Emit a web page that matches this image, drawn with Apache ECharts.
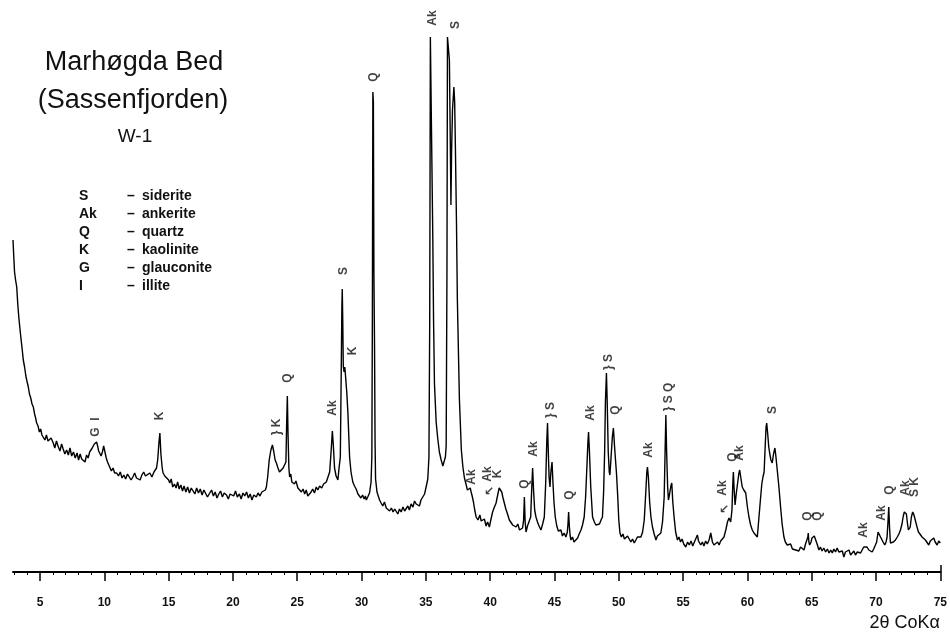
<!DOCTYPE html>
<html>
<head>
<meta charset="utf-8">
<script src="https://cdn.jsdelivr.net/npm/echarts@6/dist/echarts.min.js"></script>
<style>
html,body{margin:0;padding:0;background:#fff;}
#chart{width:950px;height:635px;}
</style>
</head>
<body>
<div id="chart"></div>
<script>
// ---- data: [2θ (deg), intensity (arbitrary units)] ----
const scanA = [[2.90,332],[2.95,318],[3.02,300],[3.10,292],[3.19,285],[3.27,268],[3.35,255],[3.45,242],[3.55,230],[3.62,222],[3.70,212],[3.80,205],[3.90,196],[4.00,190],[4.09,185],[4.18,178],[4.28,174],[4.38,168],[4.48,165],[4.58,158],[4.66,154],[4.74,149],[4.85,146],[4.95,140],[5.05,143],[5.15,137],[5.26,135],[5.38,132],[5.50,137],[5.62,131],[5.74,129],[5.86,134],[6.03,129],[6.15,124],[6.28,131],[6.40,126],[6.55,121],[6.68,128],[6.80,123],[6.93,118],[7.07,122],[7.20,117],[7.33,124],[7.46,116],[7.60,120],[7.74,114],[7.88,119],[8.00,112],[8.12,118],[8.24,113],[8.36,115],[8.50,110],[8.62,117],[8.74,114],[8.86,120],[8.98,118],[9.06,124],[9.14,125],[9.22,128],[9.30,127],[9.40,130],[9.48,126],[9.56,121],[9.66,122],[9.75,116],[9.85,120],[9.95,126],[10.05,124],[10.15,114],[10.25,110],[10.35,107],[10.43,105],[10.55,101],[10.68,104],[10.80,99],[10.96,99],[11.10,96],[11.24,100],[11.38,94],[11.52,97],[11.66,93],[11.80,98],[11.94,95],[12.08,92],[12.22,95],[12.36,99],[12.50,94],[12.64,96],[12.78,92],[12.92,97],[13.06,100],[13.20,96],[13.34,98],[13.54,99],[13.70,95],[13.86,100],[13.98,102],[14.06,104],[14.15,112],[14.25,130],[14.32,139],[14.40,118],[14.50,104],[14.57,99],[14.70,96],[14.84,95]];
const scanB = [[15.00,92],[15.09,89],[15.20,93],[15.32,85],[15.45,88],[15.58,84],[15.70,90],[15.82,83],[15.95,87],[16.08,81],[16.20,86],[16.34,80],[16.48,85],[16.62,79],[16.76,84],[16.90,82],[17.04,78],[17.18,84],[17.32,79],[17.46,83],[17.60,77],[17.74,82],[17.88,80],[18.02,75],[18.20,79],[18.34,82],[18.48,76],[18.62,80],[18.76,74],[18.90,78],[19.04,81],[19.18,75],[19.32,79],[19.50,77],[19.64,73],[19.78,78],[19.92,80],[20.06,76],[20.20,81],[20.34,75],[20.50,78],[20.64,73],[20.78,79],[20.92,76],[21.06,80],[21.20,74],[21.34,78],[21.48,72],[21.62,77],[21.82,75],[21.95,79],[22.10,76],[22.25,80],[22.40,78],[22.52,82],[22.60,85],[22.70,95],[22.82,112],[22.95,122],[23.07,127],[23.18,120],[23.28,112],[23.38,109],[23.50,104],[23.62,100],[23.77,99],[23.90,104],[24.02,102],[24.12,110],[24.18,150],[24.23,176],[24.28,140],[24.35,104],[24.41,95],[24.50,98],[24.58,90],[24.67,92],[24.78,88],[24.90,91],[25.05,84],[25.19,85],[25.32,80],[25.45,83],[25.58,78],[25.70,82],[25.82,76],[25.96,74],[26.08,80],[26.20,83],[26.34,79],[26.48,85],[26.60,82]];
const scanC = [[26.74,86],[26.90,84],[27.05,88],[27.15,86],[27.26,90],[27.40,92],[27.52,100],[27.62,118],[27.73,141],[27.80,128],[27.90,104],[28.02,96],[28.16,92],[28.26,105],[28.35,115],[28.42,200],[28.47,265],[28.50,283],[28.54,250],[28.58,206],[28.64,200],[28.70,205],[28.76,203],[28.85,180],[28.94,159],[29.07,115],[29.18,100],[29.32,90],[29.45,86],[29.58,83],[29.72,78],[29.84,79],[29.95,74],[30.08,77],[30.20,73],[30.30,76],[30.37,72],[30.48,75],[30.62,79],[30.74,90],[30.80,115],[30.84,250],[30.88,480],[30.92,470],[30.96,300],[31.01,225],[31.05,130],[31.09,93],[31.20,80],[31.30,76],[31.40,72],[31.52,69],[31.65,66],[31.78,70],[31.92,64],[32.05,66],[32.18,61],[32.32,64],[32.45,60],[32.58,63],[32.69,62],[32.82,58],[32.95,63],[33.08,60],[33.22,65],[33.35,61],[33.47,62],[33.60,66],[33.72,62],[33.85,68],[34.00,65],[34.12,71],[34.25,68],[34.38,70],[34.50,66],[34.62,72],[34.76,72],[34.90,78],[35.02,85],[35.15,93],[35.24,115],[35.30,250],[35.35,535],[35.48,535],[35.54,334],[35.60,250],[35.67,188],[35.80,150],[35.92,134],[36.05,120],[36.19,112],[36.32,106],[36.44,104],[36.52,115],[36.58,126],[36.64,300],[36.68,535],[36.78,535],[36.83,512],[36.90,430],[36.95,367],[37.00,420],[37.07,462],[37.18,485],[37.24,470],[37.30,422],[37.38,350],[37.45,272],[37.61,172],[37.76,122],[37.88,105],[38.00,94],[38.12,88],[38.23,82],[38.35,80],[38.45,84],[38.52,80],[38.60,76],[38.70,70],[38.80,62],[38.91,55]];
const scanD = [[39.05,52],[39.20,57],[39.30,51],[39.42,49],[39.55,53],[39.68,46],[39.80,50],[39.94,45],[40.05,52],[40.19,60],[40.30,64],[40.46,69],[40.60,78],[40.70,84],[40.79,86],[40.90,80],[41.00,74],[41.10,69],[41.22,63],[41.35,58],[41.49,52],[41.62,54],[41.75,47],[41.88,49],[42.01,45],[42.15,48],[42.28,42],[42.40,40],[42.52,44],[42.60,52],[42.66,75],[42.72,50],[42.79,40],[42.90,46],[43.04,45],[43.15,55],[43.22,80],[43.30,104],[43.38,80],[43.46,62],[43.56,55],[43.68,50],[43.80,46],[43.95,42],[44.08,48],[44.21,55],[44.32,90],[44.40,130],[44.46,149],[44.52,120],[44.58,95],[44.65,85],[44.72,100],[44.81,110],[44.88,90],[44.96,70],[45.06,55],[45.18,46],[45.30,41],[45.37,39],[45.50,42],[45.62,36],[45.75,39],[45.89,35],[46.00,40],[46.05,48],[46.10,60],[46.16,45],[46.22,36],[46.28,32],[46.40,35],[46.52,30],[46.67,29],[46.80,34],[46.92,38],[47.06,42],[47.18,47],[47.31,55],[47.42,75],[47.52,105],[47.60,130],[47.65,140],[47.72,120],[47.82,85],[47.96,55],[48.10,50],[48.22,47],[48.35,45],[48.50,48],[48.62,52],[48.73,55],[48.82,80],[48.90,120],[48.96,170],[49.04,199],[49.10,170],[49.18,120],[49.26,100],[49.31,97],[49.40,115],[49.50,135],[49.58,144],[49.62,144],[49.70,120],[49.82,99],[49.92,75],[50.00,52],[50.09,39],[50.20,35],[50.32,38],[50.44,33],[50.55,32],[50.68,36],[50.81,34],[50.94,30],[51.07,33],[51.20,29],[51.33,32]];
const scanE = [[51.45,35],[51.58,33],[51.72,35],[51.85,40],[51.98,52],[52.10,80],[52.18,100],[52.23,105],[52.30,95],[52.40,70],[52.50,55],[52.62,45],[52.75,38],[52.89,32],[53.00,36],[53.12,34],[53.27,39],[53.40,50],[53.53,75],[53.60,120],[53.66,157],[53.72,120],[53.80,85],[53.86,72],[53.95,78],[54.05,86],[54.12,89],[54.20,70],[54.30,55],[54.42,40],[54.56,32],[54.68,35],[54.80,30],[54.92,33],[55.05,28],[55.21,25],[55.35,30],[55.48,27],[55.62,31],[55.75,26],[55.88,30],[55.99,29],[56.11,37],[56.20,31],[56.37,27],[56.50,30],[56.62,26],[56.75,31],[56.88,28],[57.02,32],[57.15,39],[57.28,30],[57.40,27],[57.54,25],[57.68,30],[57.80,27],[57.92,31],[58.05,29],[58.18,35],[58.32,42],[58.45,50],[58.57,54],[58.70,50],[58.80,62],[58.87,90],[58.91,100],[58.96,85],[59.04,67],[59.14,79],[59.25,90],[59.33,98],[59.40,102],[59.48,95],[59.60,85],[59.72,82],[59.87,79],[60.00,65],[60.12,55],[60.25,47],[60.38,42],[60.51,39],[60.64,37],[60.77,35],[60.90,55],[61.03,75],[61.12,88],[61.21,95],[61.30,100],[61.38,125],[61.45,145],[61.50,149],[61.58,138],[61.66,125],[61.73,119],[61.83,112],[61.93,109],[62.03,118],[62.14,124],[62.22,115],[62.32,102],[62.45,85],[62.58,65],[62.70,48],[62.84,35],[62.95,30],[63.10,27],[63.23,25],[63.36,28],[63.50,23],[63.62,25],[63.75,22]];
const scanF = [[63.88,24],[64.00,21],[64.13,25],[64.26,24],[64.40,22],[64.52,28],[64.65,27],[64.70,35],[64.73,39],[64.78,30],[64.84,27],[64.95,30],[65.02,34],[65.10,32],[65.20,36],[65.30,34],[65.42,28],[65.56,22],[65.68,25],[65.80,21],[65.94,24],[66.08,20],[66.22,23],[66.35,19],[66.48,22],[66.60,19],[66.72,23],[66.85,20],[66.98,24],[67.11,20],[67.24,18],[67.38,21],[67.50,15],[67.62,20],[67.76,18],[67.90,22],[68.02,17],[68.15,19],[68.28,21],[68.40,17],[68.55,20],[68.68,18],[68.80,19],[68.92,22],[69.05,25],[69.18,27],[69.30,25],[69.44,22],[69.57,24],[69.70,20],[69.82,23],[69.96,22],[70.05,30],[70.16,40],[70.25,38],[70.35,35],[70.43,35],[70.55,30],[70.68,27],[70.78,30],[70.86,35],[70.93,50],[70.99,65],[71.05,45],[71.12,29],[71.22,31],[71.35,30],[71.51,32],[71.65,35],[71.78,38],[71.90,42],[72.02,48],[72.12,56],[72.20,60],[72.28,62],[72.36,58],[72.45,48],[72.52,42],[72.59,40],[72.66,45],[72.75,55],[72.85,60],[72.95,57],[73.05,52],[73.19,45],[73.30,40],[73.42,38],[73.58,35],[73.70,37],[73.84,32],[73.97,30],[74.10,27],[74.22,31],[74.35,29],[74.49,34],[74.60,30],[74.75,27],[74.88,31],[75.00,29]];

// tick labels
const majorTicks = [5,10,15,20,25,30,35,40,45,50,55,60,65,70,75];
const minorTicks = [3,4,6,7,8,9,11,12,13,14,16,17,18,19,21,22,23,24,26,27,28,29,31,32,33,34,36,37,38,39,41,42,43,44,46,47,48,49,51,52,53,54,56,57,58,59,61,62,63,64,66,67,68,69,71,72,73,74];
const endTick = [75];

// peak annotations: [text, 2θ, intensity level of label centre]
const peakNames = ['G  I','K','} K','Q','Ak','S','K','Q','Ak','S','Ak','Ak','K','Q','Ak','} S','Q','Ak','} S','Q','Ak','} S Q','Ak','Q','Ak','S','Q','Q','Ak','Ak','Q','Ak','S K'];
const peakPos   = [9.35,14.32,23.38,24.25,27.75,28.60,29.32,30.93,35.51,37.30,38.56,39.78,40.56,42.66,43.35,44.73,46.15,47.83,49.20,49.77,52.31,53.86,58.11,58.83,59.43,61.93,64.65,65.43,69.05,70.43,71.05,72.34,73.01];
const peakLevel = [145,156,145,194,164,301,221,495,554,547,95,98,98,88,123,162,77,159,210,162,122,175,84,115,119,162,56,56,42,59,82,84,85];
const arrowPos = [39.92,58.18];
const arrowLevel = [80,62];

const legendAbbr = ['S','Ak','Q','K','G','I'];
const legendName = ['siderite','ankerite','quartz','kaolinite','glauconite','illite'];

const curve = [].concat(scanA, scanB, scanC, scanD, scanE, scanF);
const FONT = '"Liberation Sans", Arial, Helvetica, sans-serif';

const chart = echarts.init(document.getElementById('chart'), null, {renderer:'canvas'});

const graphics = [
  {type:'text', style:{text:'Marhøgda Bed', x:134, y:63, align:'center', verticalAlign:'middle', font:'27px ' + FONT, fill:'#111'}},
  {type:'text', style:{text:'(Sassenfjorden)', x:133, y:101, align:'center', verticalAlign:'middle', font:'27px ' + FONT, fill:'#111'}},
  {type:'text', style:{text:'W-1', x:135, y:137, align:'center', verticalAlign:'middle', font:'19px ' + FONT, fill:'#111'}},
  {type:'text', style:{text:'2θ CoKα', x:940, y:623, align:'right', verticalAlign:'middle', font:'18px ' + FONT, fill:'#111'}}
];
legendAbbr.forEach((a, i) => {
  const y = 196 + i * 18;
  graphics.push({type:'text', style:{text:a, x:79, y:y, align:'left', verticalAlign:'middle', font:'bold 14px ' + FONT, fill:'#111'}});
  graphics.push({type:'text', style:{text:'–', x:131, y:y, align:'center', verticalAlign:'middle', font:'bold 14px ' + FONT, fill:'#111'}});
  graphics.push({type:'text', style:{text:legendName[i], x:142, y:y, align:'left', verticalAlign:'middle', font:'bold 14px ' + FONT, fill:'#111'}});
});

const labelData = peakNames.map((t, i) => ({value:[peakPos[i], peakLevel[i]], label:{formatter:t}}));
const arrowData = arrowPos.map((p, i) => [p, arrowLevel[i]]);

chart.setOption({
  animation:false,
  backgroundColor:'#fff',
  grid:{left:13, right:8, top:10, bottom:63, containLabel:false},
  xAxis:[{
    type:'value', min:2.9, max:75,
    axisLine:{show:true, onZero:false, lineStyle:{color:'#000', width:2}},
    axisTick:{show:true, inside:false, length:9, customValues:majorTicks, lineStyle:{color:'#000', width:1.5}},
    axisLabel:{show:true, customValues:majorTicks, margin:25, fontFamily:FONT, fontWeight:'bold', fontSize:12, color:'#111'},
    splitLine:{show:false}
  },{
    type:'value', min:2.9, max:75, position:'bottom',
    axisLine:{show:false},
    axisTick:{show:true, inside:false, length:3, customValues:minorTicks, lineStyle:{color:'#000', width:1}},
    axisLabel:{show:false},
    splitLine:{show:false}
  },{
    type:'value', min:2.9, max:75, position:'bottom',
    axisLine:{show:false},
    axisTick:{show:true, inside:true, length:7, customValues:endTick, lineStyle:{color:'#000', width:1.5}},
    axisLabel:{show:false},
    splitLine:{show:false}
  }],
  yAxis:{type:'value', min:0, max:562, show:false},
  series:[
    {type:'line', data:curve, showSymbol:false, symbol:'none', xAxisIndex:0,
     lineStyle:{color:'#000', width:1.4}, clip:true, silent:true},
    {type:'scatter', data:labelData, xAxisIndex:0, symbolSize:0, clip:false, silent:true,
     label:{show:true, position:'inside', rotate:90, fontFamily:FONT, fontWeight:'bold', fontSize:12, color:'#111'}},
    {type:'scatter', data:arrowData, xAxisIndex:0, symbolSize:0, clip:false, silent:true,
     label:{show:true, position:'inside', formatter:'↙', fontFamily:'"DejaVu Sans", sans-serif', fontWeight:'bold', fontSize:12, color:'#111'}}
  ],
  graphic:graphics
});
</script>
</body>
</html>
